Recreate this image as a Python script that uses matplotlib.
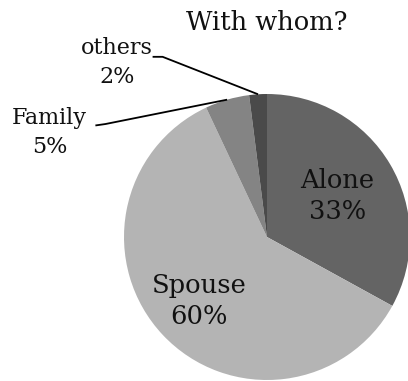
import matplotlib
matplotlib.use("Agg")
import matplotlib.pyplot as plt
import numpy as np

labels = ["Alone", "Spouse", "Family", "others"]
shares = [33, 60, 5, 2]
colors = ["#646464", "#b4b4b4", "#848484", "#4a4a4a"]

# inside labels sit at a fraction of the radius, outside ones get a leader line
inside_radius = {"Alone": 0.57, "Spouse": 0.65}
outside_text = {"Family": (-1.52, 0.73), "others": (-1.05, 1.22)}
outside_elbow = {"Family": [(-1.20, 0.78), (-1.13, 0.79)],
                 "others": [(-0.80, 1.26), (-0.73, 1.26)]}

W, H = 408, 381
cx, cy, R = 267, 237, 143

plt.rcParams["font.family"] = ["DejaVu Serif"]
fig = plt.figure(figsize=(W / 100, H / 100), dpi=100)
ax = fig.add_axes([0, 0, 1, 1])
ax.axis("off")

wedges, _ = ax.pie(shares, colors=colors, startangle=90, counterclock=False,
                   radius=1.0, wedgeprops={"linewidth": 0})
ax.set_xlim(-cx / R, (W - cx) / R)
ax.set_ylim(-(H - cy) / R, cy / R)
ax.set_aspect("auto")

for wedge, name, val in zip(wedges, labels, shares):
    mid = np.deg2rad((wedge.theta1 + wedge.theta2) / 2)
    text = f"{name}\n{val}%"
    if name in inside_radius:
        r = inside_radius[name]
        ax.text(r * np.cos(mid), r * np.sin(mid), text, ha="center", va="center",
                fontsize=18.5, linespacing=1.3, color="#111111")
    else:
        tx, ty = outside_text[name]
        ax.text(tx, ty, text, ha="center", va="center", fontsize=16,
                linespacing=1.4, color="#111111")
        pts = outside_elbow[name] + [(np.cos(mid), np.sin(mid))]
        xs, ys = zip(*pts)
        ax.plot(xs, ys, color="black", linewidth=1.3, solid_capstyle="butt")

ax.text(0, (cy - 22) / R, "With whom?", ha="center", va="center", fontsize=18.5,
        color="#111111")

fig.savefig("out.png", dpi=100, facecolor="white")
